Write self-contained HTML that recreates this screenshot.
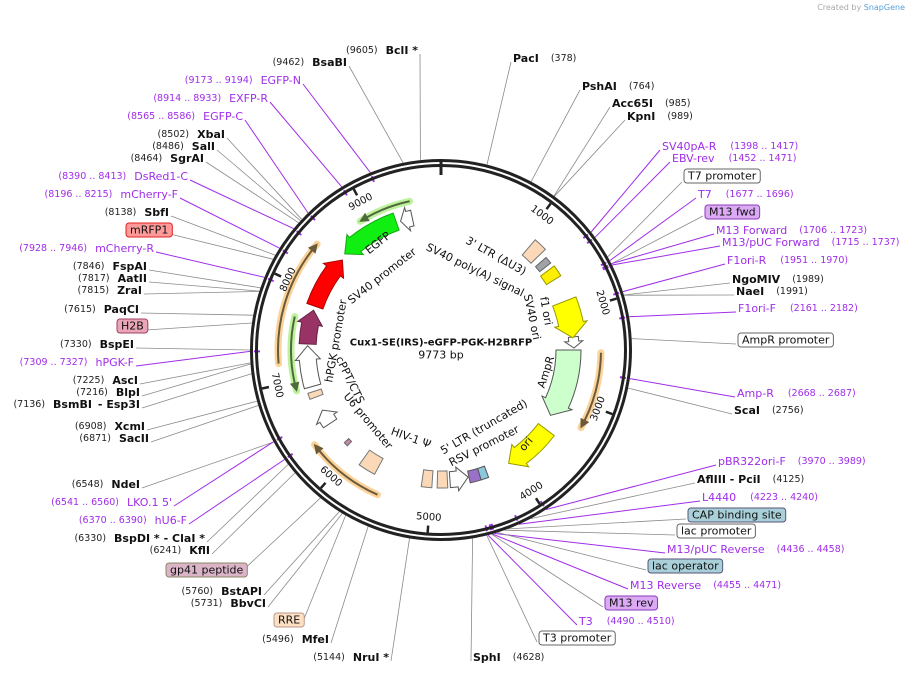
<!DOCTYPE html>
<html><head><meta charset="utf-8">
<style>
html,body{margin:0;padding:0;background:#fff;}
svg{display:block;font-family:"DejaVu Sans","Liberation Sans",sans-serif;}
.n{font-size:11px;font-weight:bold;fill:#111;}
.p{font-size:11px;fill:#a02de8;}
.num{font-size:9.5px;fill:#222;font-weight:normal;}
.pn{font-size:9.5px;fill:#a02de8;}
.bx{font-size:11px;fill:#111;}
.in{font-size:11px;fill:#111;}
</style></head>
<body>
<svg id="s" width="909" height="674" viewBox="0 0 909 674" xmlns="http://www.w3.org/2000/svg">
<text x="905" y="10" text-anchor="end" style="font-size:8px;fill:#aaa">Created by <tspan fill="#5aa0d8">SnapGene</tspan></text>
<g id="lines"></g>
<g id="feat"></g>
<circle cx="441" cy="350" r="189.5" fill="none" stroke="#222" stroke-width="3"/>
<circle cx="441" cy="350" r="184.5" fill="none" stroke="#222" stroke-width="3"/>
<line x1="441" y1="162" x2="441" y2="175" stroke="#222" stroke-width="3"/>
<g id="ticks"></g>
<g id="boxes"></g>

<!-- right labels -->
<g dominant-baseline="central">
<text x="513" y="58"><tspan class="n">PacI</tspan><tspan class="num" dx="12">(378)</tspan></text>
<text x="582" y="86"><tspan class="n">PshAI</tspan><tspan class="num" dx="12">(764)</tspan></text>
<text x="612" y="103"><tspan class="n">Acc65I</tspan><tspan class="num" dx="12">(985)</tspan></text>
<text x="627" y="116"><tspan class="n">KpnI</tspan><tspan class="num" dx="12">(989)</tspan></text>
<text x="662" y="146"><tspan class="p">SV40pA-R</tspan><tspan class="pn" dx="14">(1398 .. 1417)</tspan></text>
<text x="672" y="158"><tspan class="p">EBV-rev</tspan><tspan class="pn" dx="14">(1452 .. 1471)</tspan></text>
<text x="698" y="194"><tspan class="p">T7</tspan><tspan class="pn" dx="14">(1677 .. 1696)</tspan></text>
<text x="716" y="230"><tspan class="p">M13 Forward</tspan><tspan class="pn" dx="12">(1706 .. 1723)</tspan></text>
<text x="722" y="242"><tspan class="p">M13/pUC Forward</tspan><tspan class="pn" dx="12">(1715 .. 1737)</tspan></text>
<text x="727" y="260"><tspan class="p">F1ori-R</tspan><tspan class="pn" dx="14">(1951 .. 1970)</tspan></text>
<text x="732" y="279"><tspan class="n">NgoMIV</tspan><tspan class="num" dx="12">(1989)</tspan></text>
<text x="736" y="291"><tspan class="n">NaeI</tspan><tspan class="num" dx="12">(1991)</tspan></text>
<text x="738" y="308"><tspan class="p">F1ori-F</tspan><tspan class="pn" dx="14">(2161 .. 2182)</tspan></text>
<text x="737" y="393"><tspan class="p">Amp-R</tspan><tspan class="pn" dx="14">(2668 .. 2687)</tspan></text>
<text x="734" y="410"><tspan class="n">ScaI</tspan><tspan class="num" dx="12">(2756)</tspan></text>
<text x="718" y="461"><tspan class="p">pBR322ori-F</tspan><tspan class="pn" dx="12">(3970 .. 3989)</tspan></text>
<text x="697" y="479"><tspan class="n">AflIII - PciI</tspan><tspan class="num" dx="12">(4125)</tspan></text>
<text x="702" y="497"><tspan class="p">L4440</tspan><tspan class="pn" dx="14">(4223 .. 4240)</tspan></text>
<text x="667" y="549"><tspan class="p">M13/pUC Reverse</tspan><tspan class="pn" dx="12">(4436 .. 4458)</tspan></text>
<text x="630" y="585"><tspan class="p">M13 Reverse</tspan><tspan class="pn" dx="12">(4455 .. 4471)</tspan></text>
<text x="579" y="621"><tspan class="p">T3</tspan><tspan class="pn" dx="14">(4490 .. 4510)</tspan></text>
<text x="473" y="657"><tspan class="n">SphI</tspan><tspan class="num" dx="12">(4628)</tspan></text>
</g>
<!-- left labels -->
<g dominant-baseline="central" text-anchor="end">
<text x="418" y="50"><tspan class="num">(9605)</tspan><tspan class="n" dx="8">BclI *</tspan></text>
<text x="347" y="62"><tspan class="num">(9462)</tspan><tspan class="n" dx="8">BsaBI</tspan></text>
<text x="301" y="80"><tspan class="pn">(9173 .. 9194)</tspan><tspan class="p" dx="8">EGFP-N</tspan></text>
<text x="268" y="98"><tspan class="pn">(8914 .. 8933)</tspan><tspan class="p" dx="8">EXFP-R</tspan></text>
<text x="243" y="116"><tspan class="pn">(8565 .. 8586)</tspan><tspan class="p" dx="8">EGFP-C</tspan></text>
<text x="225" y="134"><tspan class="num">(8502)</tspan><tspan class="n" dx="8">XbaI</tspan></text>
<text x="215" y="146"><tspan class="num">(8486)</tspan><tspan class="n" dx="8">SalI</tspan></text>
<text x="204" y="158"><tspan class="num">(8464)</tspan><tspan class="n" dx="8">SgrAI</tspan></text>
<text x="188" y="176"><tspan class="pn">(8390 .. 8413)</tspan><tspan class="p" dx="8">DsRed1-C</tspan></text>
<text x="178" y="194"><tspan class="pn">(8196 .. 8215)</tspan><tspan class="p" dx="8">mCherry-F</tspan></text>
<text x="169" y="212"><tspan class="num">(8138)</tspan><tspan class="n" dx="8">SbfI</tspan></text>
<text x="154" y="248"><tspan class="pn">(7928 .. 7946)</tspan><tspan class="p" dx="8">mCherry-R</tspan></text>
<text x="147" y="266"><tspan class="num">(7846)</tspan><tspan class="n" dx="8">FspAI</tspan></text>
<text x="147" y="278"><tspan class="num">(7817)</tspan><tspan class="n" dx="8">AatII</tspan></text>
<text x="142" y="290"><tspan class="num">(7815)</tspan><tspan class="n" dx="8">ZraI</tspan></text>
<text x="139" y="309"><tspan class="num">(7615)</tspan><tspan class="n" dx="8">PaqCI</tspan></text>
<text x="134" y="344"><tspan class="num">(7330)</tspan><tspan class="n" dx="8">BspEI</tspan></text>
<text x="134" y="362"><tspan class="pn">(7309 .. 7327)</tspan><tspan class="p" dx="8">hPGK-F</tspan></text>
<text x="138" y="380"><tspan class="num">(7225)</tspan><tspan class="n" dx="8">AscI</tspan></text>
<text x="140" y="392"><tspan class="num">(7216)</tspan><tspan class="n" dx="8">BlpI</tspan></text>
<text x="140" y="404"><tspan class="num">(7136)</tspan><tspan class="n" dx="8">BsmBI</tspan><tspan class="n" dx="6">- Esp3I</tspan></text>
<text x="145" y="426"><tspan class="num">(6908)</tspan><tspan class="n" dx="8">XcmI</tspan></text>
<text x="149" y="438"><tspan class="num">(6871)</tspan><tspan class="n" dx="8">SacII</tspan></text>
<text x="140" y="484"><tspan class="num">(6548)</tspan><tspan class="n" dx="8">NdeI</tspan></text>
<text x="172" y="502"><tspan class="pn">(6541 .. 6560)</tspan><tspan class="p" dx="8">LKO.1 5'</tspan></text>
<text x="187" y="520"><tspan class="pn">(6370 .. 6390)</tspan><tspan class="p" dx="8">hU6-F</tspan></text>
<text x="205" y="538"><tspan class="num">(6330)</tspan><tspan class="n" dx="8">BspDI *</tspan><tspan class="n" dx="4">- ClaI *</tspan></text>
<text x="210" y="550"><tspan class="num">(6241)</tspan><tspan class="n" dx="8">KflI</tspan></text>
<text x="262" y="591"><tspan class="num">(5760)</tspan><tspan class="n" dx="8">BstAPI</tspan></text>
<text x="266" y="603"><tspan class="num">(5731)</tspan><tspan class="n" dx="8">BbvCI</tspan></text>
<text x="329" y="639"><tspan class="num">(5496)</tspan><tspan class="n" dx="8">MfeI</tspan></text>
<text x="389" y="657"><tspan class="num">(5144)</tspan><tspan class="n" dx="8">NruI *</tspan></text>
</g>

<!-- inner labels -->
<g class="in" text-anchor="middle" dominant-baseline="central">
<text x="441" y="343" style="font-weight:bold;font-size:10px">Cux1-SE(IRS)-eGFP-PGK-H2BRFP</text>
<text x="441" y="355" style="font-size:11px">9773 bp</text>
<text transform="translate(378,243) rotate(-38)">EGFP</text>
<text transform="translate(382,276) rotate(-38)">SV40 promoter</text>
<text transform="translate(496,256) rotate(29)">3' LTR (ΔU3)</text>
<text transform="translate(475,270) rotate(26)">SV40 poly(A) signal</text>
<text transform="translate(546,311) rotate(80)">f1 ori</text>
<text transform="translate(532,317) rotate(78)">SV40 ori</text>
<text transform="translate(546,372) rotate(-72)">AmpR</text>
<text transform="translate(526,444) rotate(-50)">ori</text>
<text transform="translate(484,427) rotate(-30)">5' LTR (truncated)</text>
<text transform="translate(484,446) rotate(-27)">RSV promoter</text>
<text transform="translate(411,438) rotate(20)">HIV-1 Ψ</text>
<text transform="translate(368,421) rotate(50)">U6 promoter</text>
<text transform="translate(350,380) rotate(64)">cPPT/CTS</text>
<text transform="translate(336,341) rotate(-80)">hPGK promoter</text>
</g>

<script>
var cx=441,cy=350,T=9773;
function ang(bp){return bp/T*2*Math.PI;}
function pt(r,a){return [cx+r*Math.sin(a),cy-r*Math.cos(a)];}
var NS="http://www.w3.org/2000/svg";
function el(t,at,par){var e=document.createElementNS(NS,t);for(var k in at)e.setAttribute(k,at[k]);(par||document.getElementById('s')).appendChild(e);return e;}
var L=document.getElementById('lines'),F=document.getElementById('feat'),B=document.getElementById('boxes'),TK=document.getElementById('ticks');
// connector lines: [x,y,bp,purple]
var R=[[511,62,378],[580,90,764],[610,107,985],[625,120,989],[660,150,1407,1],[670,162,1461,1],[682,182,1650],[696,198,1686,1],[703,216,1715],[714,234,1714,1],[720,246,1726,1],[725,264,1960,1],[730,283,1989],[734,295,1991],[736,312,2171,1],[736,344,2350],[735,397,2677,1],[732,414,2756],[716,465,3980,1],[695,483,4125],[700,501,4231,1],[686,519,4330],[675,535,4360],[665,553,4447,1],[646,570,4420],[628,589,4463,1],[603,607,4470],[577,625,4500,1],[537,642,4510],[471,661,4628],
[420,54,9605],[349,66,9462],[303,84,9183,1],[270,102,8923,1],[245,120,8575,1],[227,138,8502],[217,150,8486],[206,162,8464],[190,180,8401,1],[180,198,8205,1],[171,216,8138],[170,234,8100],[156,252,7937,1],[149,270,7846],[149,282,7817],[144,294,7815],[141,313,7615],[146,330,7550],[136,348,7330],[136,366,7318,1],[140,384,7225],[142,396,7216],[142,408,7136],[147,430,6908],[151,442,6871],[142,488,6548],[174,506,6550,1],[189,524,6380,1],[207,542,6330],[212,554,6241],[239,574,5950],[264,595,5760],[268,607,5731],[302,624,5700],[331,643,5496],[391,661,5144]];
R.forEach(function(d){var p=pt(191,ang(d[2]));el('line',{x1:d[0],y1:d[1],x2:p[0].toFixed(1),y2:p[1].toFixed(1),stroke:d[3]?'#a02de8':'#8a8a8a','stroke-width':d[3]?1:0.8},L);
 if(d[3]){var a=pt(187,ang(d[2])),b=pt(181,ang(d[2]));el('line',{x1:a[0],y1:a[1],x2:b[0],y2:b[1],stroke:'#a02de8','stroke-width':2},L);}});
// boxes
var BX=[["T7 promoter",684,176,"#fff","#666"],["M13 fwd",705,212,"#dcaaf5","#8a3ab8"],["AmpR promoter",738,340,"#fff","#666"],["CAP binding site",688,515,"#a9cfd8","#557"],["lac promoter",677,531,"#fff","#666"],["lac operator",648,566,"#a9cfd8","#557"],["M13 rev",605,603,"#dcaaf5","#8a3ab8"],["T3 promoter",539,638,"#fff","#666"],
["mRFP1",126,230,"#ff9a9a","#e02020"],["H2B",117,326,"#eaa6b8","#a04060"],["gp41 peptide",166,570,"#dcb4c8","#886"],["RRE",274,620,"#fde0c4","#b98"]];
BX.forEach(function(b){var t=el('text',{x:b[1]+4,y:b[2],'dominant-baseline':'central','class':'bx'},B);t.textContent=b[0];var w=t.getComputedTextLength?t.getComputedTextLength():b[0].length*6.5;
 var r=el('rect',{x:b[1],y:b[2]-7,width:w+8,height:14,rx:3,fill:b[3],stroke:b[4],'stroke-width':1});B.insertBefore(r,t);});
// ticks
for(var k=1;k<=9;k++){var a=ang(k*1000),p1=pt(183,a),p2=pt(176,a);el('line',{x1:p1[0],y1:p1[1],x2:p2[0],y2:p2[1],stroke:'#222','stroke-width':2.5},TK);
 var d=a*180/Math.PI,rot=(d>90&&d<270)?d-180:d,q=pt(168,a);var t=el('text',{transform:'translate('+q[0]+','+q[1]+') rotate('+rot+')','text-anchor':'middle','dominant-baseline':'central',style:'font-size:10px;fill:#111'},TK);t.textContent=k*1000;}
// features
function feat(s,e,r1,r2,fill,stroke,arrow){var as=ang(s),ae=ang(e),dir=ae>as?1:-1,rm=(r1+r2)/2,hd=arrow?Math.min(14/rm,Math.abs(ae-as)*0.6)*dir:0,w=arrow?4:0;
 var sw=dir>0?1:0,sw2=dir>0?0:1,big=Math.abs(ae-as-hd)>Math.PI?1:0;
 var a=pt(r2,as),b=pt(r2,ae-hd),c=pt(r2+w,ae-hd),tp=pt(rm,ae),d2=pt(r1-w,ae-hd),f=pt(r1,ae-hd),g=pt(r1,as);
 var dd='M'+a+' A'+r2+','+r2+' 0 '+big+' '+sw+' '+b+(arrow?' L'+c+' L'+tp+' L'+d2:'')+' L'+f+' A'+r1+','+r1+' 0 '+big+' '+sw2+' '+g+'Z';
 el('path',{d:dd,fill:fill,stroke:stroke,'stroke-width':1},F);}
function thin(s,e,r,halo,col){var as=ang(s),ae=ang(e),dir=ae>as?1:-1,hd=8/r*dir,sw=dir>0?1:0;
 var a=pt(r,as),b=pt(r,ae-hd);var d='M'+a+' A'+r+','+r+' 0 0 '+sw+' '+b;
 el('path',{d:'M'+a+' A'+r+','+r+' 0 0 '+sw+' '+pt(r,ae),fill:'none',stroke:halo,'stroke-width':7,'stroke-linecap':'round'},F);
 el('path',{d:d,fill:'none',stroke:col,'stroke-width':2},F);
 var tp=pt(r,ae),c=pt(r+4,ae-hd),f=pt(r-4,ae-hd);el('path',{d:'M'+c+' L'+tp+' L'+f+'Z',fill:col,stroke:col},F);}
thin(9450,8900,152,'#bff29e','#4f6a3a');
thin(7200,8430,163,'#fbd39a','#6b5a3a');
thin(7680,6900,150,'#bff29e','#4f6a3a');
thin(5530,6330,158,'#fbd39a','#6b5a3a');
thin(2470,3230,160,'#fbd39a','#6b5a3a');
feat(9440,9300,127,143,'#fff','#555',true);
feat(9250,8550,127,145,'#11ee11','#11aa11',true);
feat(7850,8480,125,142,'#ff0000','#aa0000',true);
feat(7400,7800,125,142,'#993366','#662244',true);
feat(6900,7380,125,142,'#fff','#555',true);
feat(6770,6840,126,140,'#fbd9b8','#777',false);
feat(6420,6600,125,141,'#fff','#555',true);
feat(6090,6140,128,134,'#c48aa8','#666',false);
feat(5650,5850,123,141,'#fbd9b8','#777',false);
feat(4990,5110,121,138,'#fbd9b8','#777',false);
feat(4810,4930,121,138,'#fbd9b8','#777',false);
feat(4780,4560,122,138,'#fff','#555',true);
feat(4420,4550,124,136,'#9a70c8','#555',false);
feat(4330,4420,124,136,'#8cc8dc','#555',false);
feat(3450,4050,122,142,'#ffff00','#999900',true);
feat(2443,3280,115,140,'#ccffcc','#555',true);
feat(2290,2420,128,138,'#fff','#555',true);
feat(1860,2300,120,145,'#ffff00','#999900',true);
feat(1450,1580,124,141,'#ffee00','#999900',false);
feat(1320,1400,126,140,'#a0a4a8','#666',false);
feat(1100,1250,125,145,'#fbd9b8','#777',false);
</script>
</svg>
</body></html>
